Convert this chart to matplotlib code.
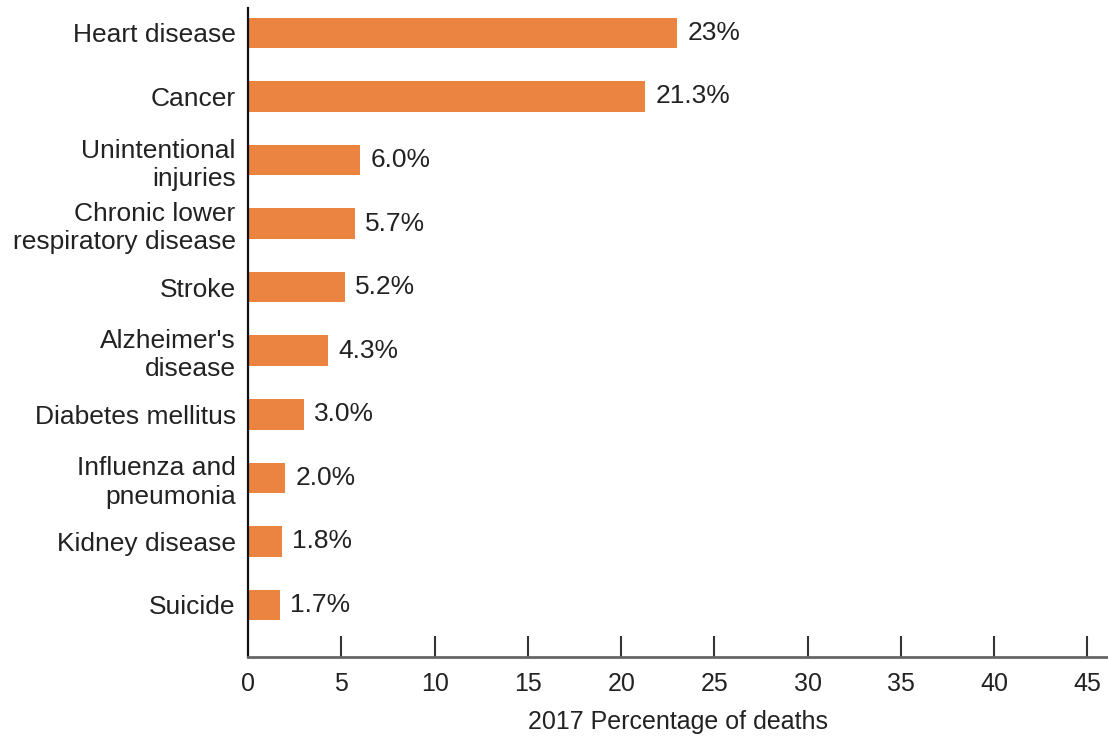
import matplotlib
matplotlib.use('Agg')
import matplotlib.pyplot as plt
import numpy as np

plt.rcParams['font.family'] = ['Liberation Sans', 'DejaVu Sans']

# data
causes = ['Heart disease', 'Cancer', 'Unintentional\ninjuries',
          'Chronic lower\nrespiratory disease', 'Stroke', "Alzheimer's\ndisease",
          'Diabetes mellitus', 'Influenza and\npneumonia', 'Kidney disease', 'Suicide']
percents = [23, 21.3, 6.0, 5.7, 5.2, 4.3, 3.0, 2.0, 1.8, 1.7]
value_labels = ['23%', '21.3%', '6.0%', '5.7%', '5.2%', '4.3%', '3.0%', '2.0%', '1.8%', '1.7%']
xticks = [0, 5, 10, 15, 20, 25, 30, 35, 40, 45]

fig = plt.figure(figsize=(11.08, 7.40), dpi=100)
ax = fig.add_axes([0.224, 0.112, 0.776, 0.877])

y = np.arange(len(causes))
ax.barh(y, percents, height=0.48, color='#EC8441')

for yi, val, lab in zip(y, percents, value_labels):
    ax.text(val + 0.55, yi, lab, va='center', ha='left', fontsize=19, color='#222222')

ax.set_yticks(y)
ax.set_yticklabels(causes, fontsize=19, color='#222222', linespacing=1.22)
ax.set_ylim(9.82, -0.39)
ax.set_xlim(0, 46.1)
ax.set_xticks(xticks)
ax.set_xticklabels([str(t) for t in xticks], fontsize=18, color='#222222')

ax.tick_params(axis='y', length=0, pad=9)
ax.tick_params(axis='x', direction='in', length=15, width=1.5, color='#333333', pad=11)
ax.xaxis.get_major_ticks()[0].tick1line.set_visible(False)

for s in ['top', 'right']:
    ax.spines[s].set_visible(False)
ax.spines['left'].set_linewidth(1.6)
ax.spines['left'].set_color('#111111')
ax.spines['bottom'].set_linewidth(2)
ax.spines['bottom'].set_color('#666666')

ax.set_xlabel('2017 Percentage of deaths', fontsize=18, color='#222222', labelpad=10)

fig.savefig('out.png', dpi=100)
